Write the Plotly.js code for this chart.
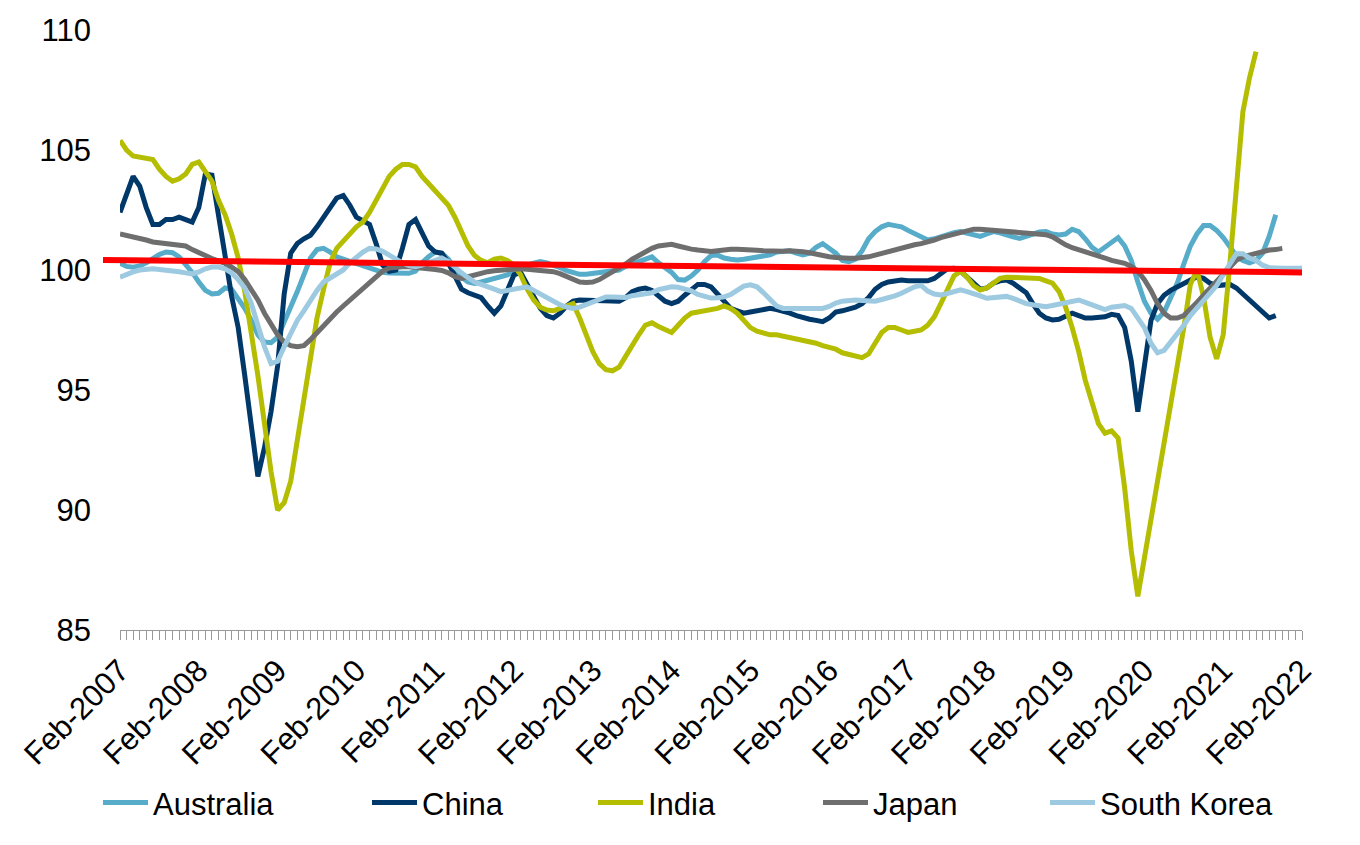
<!DOCTYPE html>
<html>
<head>
<meta charset="utf-8">
<script src="https://cdn.plot.ly/plotly-3.0.1.min.js"></script>
<style>
  html, body { margin: 0; padding: 0; background: #fff; }
  #chart { width: 1360px; height: 845px; }
</style>
</head>
<body>
<div id="chart"></div>
<script>
// monthly index values, first point Feb-2007
const monthNames = ['Jan','Feb','Mar','Apr','May','Jun','Jul','Aug','Sep','Oct','Nov','Dec'];
const months = [];
for (let k = 0; k <= 180; k++) {
  const m = (1 + k) % 12;
  const yr = 2007 + Math.floor((1 + k) / 12);
  months.push(monthNames[m] + '-' + yr);
}
// only February of each year carries a label
const tickText = months.map(m => m.startsWith('Feb') ? m : '');

const australia = [
  100.28,100.15,100.12,100.17,100.3,100.5,100.65,100.75,100.72,100.55,
  100.25,99.9,99.5,99.15,99.0,99.03,99.25,99.2,98.8,98.4,
  97.9,97.3,97.0,96.97,97.2,97.8,98.4,99.1,99.8,100.5,
  100.85,100.9,100.75,100.55,100.45,100.35,100.25,100.2,100.05,99.95,
  99.9,99.87,99.86,99.86,99.86,99.95,100.3,100.55,100.75,100.7,
  100.45,100.05,99.7,99.5,99.44,99.5,99.58,99.65,99.72,99.8,
  99.95,100.1,100.2,100.28,100.35,100.3,100.22,100.1,99.97,99.88,
  99.82,99.82,99.86,99.88,99.9,99.93,100.0,100.15,100.25,100.35,
  100.45,100.55,100.3,100.1,99.9,99.6,99.58,99.75,100.0,100.35,
  100.6,100.62,100.5,100.45,100.42,100.45,100.5,100.5,100.55,100.63,
  100.75,100.8,100.8,100.7,100.63,100.7,100.95,101.1,100.9,100.7,
  100.4,100.35,100.45,100.8,101.3,101.6,101.8,101.9,101.85,101.8,
  101.65,101.5,101.35,101.25,101.3,101.4,101.5,101.55,101.6,101.52,
  101.45,101.4,101.5,101.6,101.55,101.45,101.38,101.32,101.4,101.53,
  101.58,101.6,101.5,101.46,101.5,101.7,101.6,101.3,100.95,100.75,
  100.95,101.15,101.35,101.0,100.4,99.5,98.7,98.2,97.95,98.25,
  98.9,99.45,100.25,101.0,101.5,101.85,101.85,101.65,101.35,100.95,
  100.6,100.4,100.3,100.4,100.7,101.4,102.3
];

const china = [
  102.4,103.2,103.9,103.5,102.6,101.9,101.9,102.1,102.1,102.2,
  102.1,102.0,102.6,104.0,103.95,102.4,100.6,98.9,97.6,95.6,
  93.3,91.4,92.6,94.1,96.0,99.0,100.7,101.1,101.3,101.45,
  101.8,102.2,102.6,103.0,103.1,102.7,102.2,102.05,101.9,101.1,
  100.2,99.95,100.0,100.9,101.9,102.1,101.6,101.0,100.75,100.7,
  100.3,99.8,99.2,99.05,98.95,98.85,98.5,98.2,98.5,99.1,
  99.8,99.9,99.44,98.9,98.4,98.1,98.0,98.2,98.5,98.7,
  98.75,98.75,98.7,98.7,98.75,98.75,98.7,98.85,99.1,99.2,
  99.25,99.15,98.9,98.7,98.6,98.7,98.95,99.2,99.4,99.4,
  99.3,99.0,98.7,98.4,98.3,98.2,98.25,98.3,98.4,98.4,
  98.35,98.3,98.2,98.1,98.0,97.95,97.9,97.85,98.0,98.25,
  98.3,98.35,98.45,98.6,98.85,99.2,99.4,99.5,99.55,99.58,
  99.55,99.55,99.5,99.55,99.65,99.85,100.05,100.07,99.95,99.7,
  99.45,99.2,99.25,99.45,99.55,99.58,99.45,99.25,99.05,98.6,
  98.2,98.0,97.92,97.95,98.1,98.2,98.1,98.0,98.0,98.0,
  98.05,98.15,98.1,97.6,96.2,94.1,96.0,97.9,98.6,98.95,
  99.15,99.3,99.4,99.6,99.72,99.65,99.45,99.35,99.35,99.4,
  99.25,99.0,98.7,98.45,98.2,98.0,98.1
];

const india = [
  105.4,105.0,104.75,104.7,104.7,104.6,104.2,103.9,103.7,103.8,
  104.0,104.4,104.5,104.1,103.7,102.9,102.3,101.5,100.5,99.1,
  97.4,95.6,93.6,91.6,90.0,90.3,91.2,92.9,94.5,96.0,
  98.0,99.2,100.3,100.9,101.2,101.5,101.8,102.0,102.4,102.9,
  103.4,103.9,104.2,104.4,104.4,104.3,103.9,103.6,103.3,103.0,
  102.7,102.2,101.6,101.0,100.6,100.4,100.3,100.45,100.5,100.4,
  100.2,99.8,99.2,98.75,98.45,98.33,98.3,98.4,98.5,98.6,
  98.0,97.3,96.6,96.1,95.85,95.8,95.95,96.4,96.9,97.3,
  97.7,97.8,97.65,97.5,97.4,97.7,98.0,98.2,98.25,98.25,
  98.3,98.4,98.5,98.4,98.2,97.9,97.6,97.45,97.35,97.3,
  97.3,97.25,97.2,97.15,97.1,97.0,96.95,96.85,96.8,96.7,
  96.55,96.5,96.4,96.35,96.5,97.0,97.4,97.6,97.6,97.5,
  97.4,97.45,97.5,97.7,98.05,98.6,99.2,99.75,99.95,99.7,
  99.35,99.17,99.25,99.45,99.65,99.7,99.7,99.65,99.65,99.65,
  99.65,99.55,99.45,99.1,98.45,97.6,96.6,95.4,94.5,93.6,
  93.2,93.3,93.0,90.9,88.3,86.4,88.0,89.6,91.2,92.7,
  94.5,95.8,97.6,99.4,100.0,98.9,97.2,96.3,97.3,100.2,
  103.4,106.6,108.0,109.1
];

const japan = [
  101.5,101.45,101.4,101.33,101.25,101.17,101.13,101.1,101.08,101.04,
  101.0,100.85,100.7,100.6,100.48,100.38,100.28,100.12,99.93,99.6,
  99.2,98.75,98.2,97.7,97.3,97.0,96.85,96.8,96.85,97.1,
  97.4,97.7,98.0,98.25,98.5,98.75,98.95,99.2,99.45,99.7,
  99.95,100.08,100.12,100.14,100.14,100.12,100.1,100.07,100.02,99.98,
  99.88,99.72,99.65,99.72,99.8,99.88,99.93,99.97,100.0,100.0,
  100.03,100.05,100.03,100.0,100.0,99.97,99.93,99.85,99.73,99.6,
  99.5,99.48,99.5,99.6,99.75,99.9,100.05,100.25,100.45,100.62,
  100.78,100.9,101.0,101.05,101.07,101.0,100.92,100.87,100.83,100.8,
  100.77,100.8,100.84,100.86,100.86,100.86,100.84,100.82,100.8,100.78,
  100.76,100.78,100.8,100.8,100.76,100.72,100.65,100.6,100.55,100.52,
  100.49,100.49,100.49,100.5,100.55,100.62,100.7,100.78,100.85,100.93,
  101.0,101.05,101.1,101.15,101.25,101.35,101.42,101.5,101.58,101.64,
  101.7,101.7,101.68,101.65,101.62,101.6,101.57,101.56,101.56,101.55,
  101.52,101.47,101.38,101.2,101.05,100.93,100.85,100.75,100.7,100.6,
  100.5,100.4,100.35,100.28,100.15,99.95,99.6,99.15,98.6,98.2,
  98.0,98.0,98.1,98.35,98.65,98.95,99.25,99.5,99.85,100.15,
  100.4,100.55,100.63,100.7,100.76,100.83,100.85,100.9
];

const southKorea = [
  99.7,99.82,99.92,100.0,100.05,100.05,100.02,100.0,99.97,99.93,
  99.88,99.84,99.92,100.05,100.12,100.12,100.05,99.88,99.6,99.25,
  98.6,97.7,96.8,96.1,96.2,96.8,97.4,97.9,98.3,98.75,
  99.15,99.5,99.65,99.8,100.0,100.3,100.55,100.75,100.9,100.88,
  100.78,100.62,100.42,100.3,100.18,100.14,100.2,100.3,100.45,100.5,
  100.35,100.1,99.88,99.68,99.5,99.4,99.28,99.2,99.1,99.15,
  99.25,99.3,99.3,99.15,99.0,98.85,98.65,98.55,98.45,98.4,
  98.45,98.55,98.7,98.8,98.88,98.88,98.84,98.85,98.93,98.98,
  99.0,99.05,99.18,99.26,99.3,99.28,99.22,99.13,98.98,98.88,
  98.83,98.84,98.88,98.98,99.18,99.33,99.38,99.3,99.05,98.8,
  98.5,98.4,98.4,98.4,98.45,98.45,98.42,98.4,98.48,98.62,
  98.7,98.73,98.75,98.73,98.7,98.7,98.77,98.83,98.92,99.03,
  99.17,99.3,99.36,99.12,99.0,98.96,99.02,99.12,99.17,99.1,
  99.03,98.92,98.82,98.85,98.88,98.9,98.82,98.7,98.6,98.55,
  98.5,98.47,98.52,98.58,98.65,98.72,98.75,98.65,98.54,98.42,
  98.35,98.45,98.5,98.52,98.4,98.0,97.6,96.95,96.55,96.65,
  97.0,97.3,97.7,98.1,98.4,98.75,99.0,99.35,99.8,100.28,
  100.68,100.68,100.5,100.4,100.2,100.1,100.07,100.07,100.07,100.07,
  100.07
];

// red trend line, value at its left and right ends
const trendStart = 100.42;
const trendEnd = 99.9;

const seriesNames = ['Australia', 'China', 'India', 'Japan', 'South Korea'];
const seriesData = [australia, china, india, japan, southKorea];
const seriesColors = ['#57ACCA', '#00386A', '#B5BD00', '#6E6E6E', '#9DCAE0'];
const legendX = [103, 372, 598, 823, 1050];

const font = 'Liberation Sans, Arial, sans-serif';

const traces = seriesData.map((vals, i) => ({
  x: months.slice(0, vals.length),
  y: vals,
  name: seriesNames[i],
  type: 'scatter',
  mode: 'lines',
  line: { color: seriesColors[i], width: 5 },
  legend: i === 0 ? 'legend' : 'legend' + (i + 1),
  hoverinfo: 'x+y+name'
}));

const layout = {
  width: 1360,
  height: 845,
  margin: { l: 120, r: 58, t: 30, b: 215 },
  paper_bgcolor: '#ffffff',
  plot_bgcolor: '#ffffff',
  font: { family: font, size: 31, color: '#000000' },
  showlegend: true,
  xaxis: {
    type: 'category',
    range: [0, 180],
    tickmode: 'array',
    tickvals: months,
    ticktext: tickText,
    tickangle: -45,
    ticks: 'outside',
    ticklen: 9,
    tickwidth: 1,
    tickcolor: '#999999',
    showline: true,
    linecolor: '#999999',
    linewidth: 1,
    showgrid: false,
    zeroline: false,
    tickfont: { family: font, size: 31, color: '#000000' }
  },
  yaxis: {
    range: [85, 110],
    dtick: 5,
    tick0: 85,
    showgrid: false,
    zeroline: false,
    showline: false,
    ticks: '',
    ticklabelstandoff: 28,
    tickfont: { family: font, size: 31, color: '#000000' }
  },
  shapes: [{
    type: 'line',
    xref: 'paper',
    yref: 'y',
    x0: -0.0144, x1: 1,
    y0: trendStart, y1: trendEnd,
    line: { color: '#FF0000', width: 6 },
    layer: 'above'
  }]
};

legendX.forEach((px, i) => {
  const key = i === 0 ? 'legend' : 'legend' + (i + 1);
  layout[key] = {
    x: (px - 120 - 5) / 1182,
    xanchor: 'left',
    y: -0.288,
    yanchor: 'middle',
    orientation: 'h',
    bgcolor: 'rgba(0,0,0,0)',
    borderwidth: 0,
    itemwidth: 45,
    font: { family: font, size: 31, color: '#000000' }
  };
});

Plotly.newPlot('chart', traces, layout, { displayModeBar: false });
</script>
</body>
</html>
